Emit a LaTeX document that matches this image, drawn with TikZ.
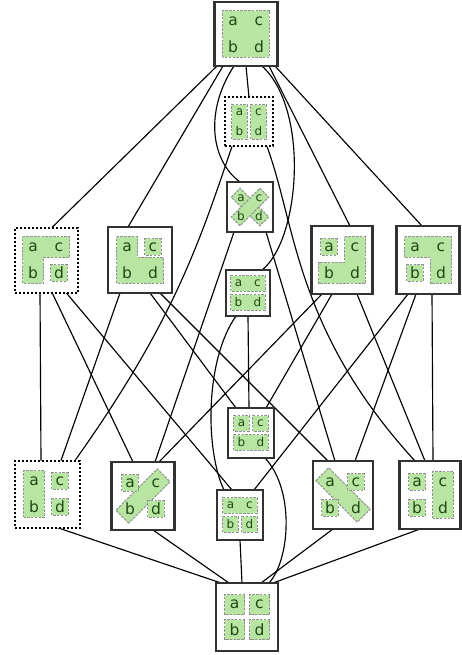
\documentclass[tikz,border=0pt]{standalone}
\usepackage{fontspec}
\setmainfont{DejaVu Sans}
\usetikzlibrary{calc,backgrounds}

\definecolor{blockgreen}{RGB}{184,230,162}
\definecolor{lettergreen}{RGB}{32,72,22}
\definecolor{blockedge}{RGB}{145,145,145}
\definecolor{framegray}{RGB}{50,50,50}

% the four element labels of one partition picture
\newcommand{\letters}[2]{%
  \node[#2] (#1a) at (-1,1) {a};
  \node[#2] (#1c) at (1,1) {c};
  \node[#2] (#1b) at (-1,-1) {b};
  \node[#2] (#1d) at (1,-1) {d};}
% blocks of a partition, in units of the label spacing
\newcommand{\blkone}[2]{\draw[block] (#1-0.8,#2-0.8) rectangle (#1+0.8,#2+0.8);}
\newcommand{\blkonesm}[2]{\draw[block] (#1-0.62,#2-0.62) rectangle (#1+0.62,#2+0.62);}
\newcommand{\blkcol}[1]{\draw[block] (#1-0.8,-1.8) rectangle (#1+0.8,1.8);}
\newcommand{\blkrow}[1]{\draw[block] (-1.8,#1-0.8) rectangle (1.8,#1+0.8);}
\newcommand{\blkdiag}[1]{\draw[block, rotate=#1] (-2.25,-0.7) rectangle (2.25,0.7);}
% straight cover relation from the bottom of one frame to the top of another
\newcommand{\lnk}[4]{\draw[edge] ($(#1.south)+(#2,0)$) -- ($(#3.north)+(#4,0)$);}

\begin{document}
\begin{tikzpicture}[x=1pt,y=1pt,
  frame/.style={rectangle, draw=framegray, line width=2.2pt, fill=white, inner sep=0pt, outer sep=0pt},
  thinframe/.style={frame, line width=1.6pt},
  dotframe/.style={frame, draw=black, line width=2pt, dash pattern=on 2pt off 2pt},
  block/.style={fill=blockgreen, draw=blockedge, line width=1.1pt, dash pattern=on 2.5pt off 1.3pt},
  letter/.style={text=lettergreen, inner sep=0pt},
  biglet/.style={letter, font=\fontsize{15.5}{15.5}\selectfont},
  smalllet/.style={letter, font=\fontsize{12}{12}\selectfont},
  edge/.style={line width=1.15pt, draw=black}]

% frames of the fifteen partitions
\node[frame, minimum width=63pt, minimum height=64pt] (T) at (246,-34) {};
\node[dotframe, minimum width=48pt, minimum height=49pt] (C) at (249,-122) {};
\node[thinframe, minimum width=46pt, minimum height=50pt] (D) at (250,-207) {};
\node[thinframe, minimum width=44pt, minimum height=46pt] (E) at (248,-293) {};
\node[dotframe, minimum width=63pt, minimum height=65pt] (A) at (46,-260) {};
\node[frame, minimum width=64pt, minimum height=66pt] (B) at (140,-260) {};
\node[frame, minimum width=61pt, minimum height=68pt] (F) at (342,-260) {};
\node[frame, minimum width=63pt, minimum height=68pt] (G) at (428,-260) {};
\node[thinframe, minimum width=46pt, minimum height=50pt] (J) at (251,-433) {};
\node[thinframe, minimum width=46pt, minimum height=50pt] (K) at (240,-515) {};
\node[dotframe, minimum width=65pt, minimum height=67pt] (H) at (47,-494) {};
\node[frame, minimum width=63pt, minimum height=68pt] (I) at (143,-496) {};
\node[frame, minimum width=60pt, minimum height=68pt] (L) at (343,-495) {};
\node[frame, minimum width=61pt, minimum height=68pt] (M) at (430,-495) {};
\node[frame, minimum width=62pt, minimum height=68pt] (Z) at (247,-617) {};

% {abcd}
\begin{scope}[shift={(T.center)}, x=13pt, y=13pt]
  \draw[block] (-1.8,-1.8) rectangle (1.8,1.8);
  \letters{T}{biglet}
\end{scope}
% {ab}{cd}
\begin{scope}[shift={(C.center)}, x=9.5pt, y=9.5pt]
  \blkcol{-1} \blkcol{1}
  \letters{C}{smalllet}
\end{scope}
% {ad}{bc}
\begin{scope}[shift={(D.center)}, x=9pt, y=9pt]
  \blkdiag{-45} \blkdiag{45}
  \letters{D}{smalllet}
\end{scope}
% {ac}{bd}
\begin{scope}[shift={(E.center)}, x=9.5pt, y=9.5pt]
  \blkrow{1} \blkrow{-1}
  \letters{E}{smalllet}
\end{scope}
% {abc}{d}
\begin{scope}[shift={(A.center)}, x=13pt, y=13pt]
  \draw[block] (-1.8,1.8) -- (1.8,1.8) -- (1.8,0.2) -- (-0.2,0.2) -- (-0.2,-1.8) -- (-1.8,-1.8) -- cycle;
  \blkonesm{1}{-1}
  \letters{A}{biglet}
\end{scope}
% {abd}{c}
\begin{scope}[shift={(B.center)}, x=13pt, y=13pt]
  \draw[block] (-1.8,1.8) -- (-0.2,1.8) -- (-0.2,0.2) -- (1.8,0.2) -- (1.8,-1.8) -- (-1.8,-1.8) -- cycle;
  \blkonesm{1}{1}
  \letters{B}{biglet}
\end{scope}
% {a}{bcd}
\begin{scope}[shift={(F.center)}, x=13pt, y=13pt]
  \draw[block] (0.2,1.8) -- (1.8,1.8) -- (1.8,-1.8) -- (-1.8,-1.8) -- (-1.8,-0.2) -- (0.2,-0.2) -- cycle;
  \blkonesm{-1}{1}
  \letters{F}{biglet}
\end{scope}
% {acd}{b}
\begin{scope}[shift={(G.center)}, x=13pt, y=13pt]
  \draw[block] (-1.8,1.8) -- (1.8,1.8) -- (1.8,-1.8) -- (0.2,-1.8) -- (0.2,0.2) -- (-1.8,0.2) -- cycle;
  \blkonesm{-1}{-1}
  \letters{G}{biglet}
\end{scope}
% {a}{c}{bd}
\begin{scope}[shift={(J.center)}, x=9.5pt, y=9.5pt]
  \blkone{-1}{1} \blkone{1}{1} \blkrow{-1}
  \letters{J}{smalllet}
\end{scope}
% {ac}{b}{d}
\begin{scope}[shift={(K.center)}, x=9.5pt, y=9.5pt]
  \blkrow{1} \blkone{-1}{-1} \blkone{1}{-1}
  \letters{K}{smalllet}
\end{scope}
% {ab}{c}{d}
\begin{scope}[shift={(H.center)}, x=13pt, y=13pt]
  \blkcol{-1} \blkonesm{1}{1} \blkonesm{1}{-1}
  \letters{H}{biglet}
\end{scope}
% {a}{bc}{d}
\begin{scope}[shift={(I.center)}, x=13pt, y=13pt]
  \blkdiag{45} \blkonesm{-1}{1} \blkonesm{1}{-1}
  \letters{I}{biglet}
\end{scope}
% {ad}{b}{c}
\begin{scope}[shift={(L.center)}, x=13pt, y=13pt]
  \blkdiag{-45} \blkonesm{-1}{-1} \blkonesm{1}{1}
  \letters{L}{biglet}
\end{scope}
% {a}{b}{cd}
\begin{scope}[shift={(M.center)}, x=13pt, y=13pt]
  \blkonesm{-1}{1} \blkonesm{-1}{-1} \blkcol{1}
  \letters{M}{biglet}
\end{scope}
% {a}{b}{c}{d}
\begin{scope}[shift={(Z.center)}, x=12.5pt, y=12.5pt]
  \blkone{-1}{1} \blkone{1}{1} \blkone{-1}{-1} \blkone{1}{-1}
  \letters{Z}{biglet}
\end{scope}

\begin{scope}[on background layer]
  \fill[white] (0,0) rectangle (461,-655);
  % top to the two-block partitions
  \lnk{T}{-29}{A}{6}
  \lnk{T}{-23}{B}{-12}
  \lnk{T}{0}{C}{0}
  \lnk{T}{23}{F}{8}
  \lnk{T}{29}{G}{-6}
  \draw[edge] ($(T.south)+(-12,0)$) .. controls (205,-110) and (210,-160) .. ($(D.north)+(-10,0)$);
  \draw[edge] ($(T.south)+(16,0)$) .. controls (310,-110) and (300,-240) .. ($(E.north)+(14,0)$);
  % two-block to three-block partitions
  \lnk{A}{-6}{H}{-6}
  \lnk{A}{6}{I}{-10}
  \lnk{A}{20}{K}{-8}
  \lnk{B}{-20}{H}{14}
  \lnk{B}{10}{J}{-15}
  \lnk{B}{20}{L}{-15}
  \draw[edge] ($(C.south)+(-17,0)$) .. controls (200,-240) and (175,-320) .. ($(H.north)+(28,0)$);
  \draw[edge] ($(C.south)+(18,0)$) .. controls (296,-225) and (295,-330) .. ($(M.north)+(-15,0)$);
  \lnk{D}{-16}{I}{12}
  \lnk{D}{16}{L}{-8}
  \lnk{E}{0}{J}{-2}
  \draw[edge] ($(E.south)+(-12,0)$) .. controls (205,-360) and (205,-450) .. ($(K.north)+(-16,0)$);
  \lnk{F}{-20}{I}{16}
  \lnk{F}{-10}{J}{15}
  \lnk{F}{15}{M}{-5}
  \lnk{G}{-20}{K}{14}
  \lnk{G}{-12}{L}{12}
  \lnk{G}{4}{M}{3}
  % three-block partitions to the bottom
  \lnk{H}{10}{Z}{-26}
  \lnk{I}{10}{Z}{-18}
  \lnk{K}{0}{Z}{-5}
  \lnk{L}{-10}{Z}{14}
  \lnk{M}{-10}{Z}{26}
  \draw[edge] ($(J.south)+(14,0)$) .. controls (295,-490) and (290,-560) .. ($(Z.north)+(22,0)$);
\end{scope}
\end{tikzpicture}
\end{document}
